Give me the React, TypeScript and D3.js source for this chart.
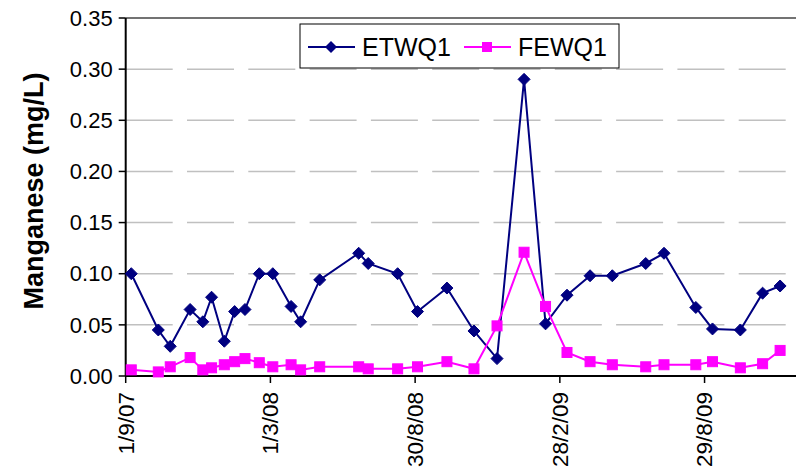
import React from "react";
import * as d3 from "d3";

const dates = [
  "2007-09-08", "2007-10-12", "2007-10-27", "2007-11-21", "2007-12-07", "2007-12-18",
  "2008-01-03", "2008-01-16", "2008-01-29", "2008-02-16", "2008-03-04", "2008-03-27",
  "2008-04-08", "2008-05-02", "2008-06-20", "2008-07-02", "2008-08-08", "2008-09-02",
  "2008-10-09", "2008-11-12", "2008-12-11", "2009-01-14", "2009-02-10", "2009-03-09",
  "2009-04-07", "2009-05-05", "2009-06-16", "2009-07-09", "2009-08-18", "2009-09-08",
  "2009-10-13", "2009-11-10", "2009-12-02",
];
const etwq1 = [
  0.100, 0.045, 0.029, 0.065, 0.053, 0.077, 0.034, 0.063, 0.065, 0.100, 0.100, 0.068,
  0.053, 0.094, 0.120, 0.110, 0.100, 0.063, 0.086, 0.044, 0.017, 0.290, 0.051, 0.079,
  0.098, 0.098, 0.110, 0.120, 0.067, 0.046, 0.045, 0.081, 0.088,
];
const fewq1 = [
  0.006, 0.004, 0.009, 0.018, 0.006, 0.008, 0.011, 0.014, 0.017, 0.013, 0.009, 0.011,
  0.006, 0.009, 0.009, 0.007, 0.007, 0.009, 0.014, 0.007, 0.049, 0.121, 0.068, 0.023,
  0.014, 0.011, 0.009, 0.011, 0.011, 0.014, 0.008, 0.012, 0.025,
];
const xTickDates = ["2007-09-01", "2008-03-01", "2008-08-30", "2009-02-28", "2009-08-29"];
const xTickLabels = ["1/9/07", "1/3/08", "30/8/08", "28/2/09", "29/8/09"];
const yTicks = [0, 0.05, 0.1, 0.15, 0.2, 0.25, 0.3, 0.35];
const seriesNames = ["ETWQ1", "FEWQ1"];

const W = 796;
const H = 475;
const parse = d3.utcParse("%Y-%m-%d");

export default function App() {
  const left = 125.7;
  const right = 796;
  const top = 18;
  const bottom = 376;
  const x = d3
    .scaleUtc()
    .domain([parse("2007-09-01")!, parse("2009-12-22")!])
    .range([left, right]);
  const y = d3.scaleLinear().domain([0, 0.35]).range([bottom, top]);
  const pts = dates.map((d) => parse(d)!);
  const line = d3
    .line<number>()
    .x((_, i) => x(pts[i]))
    .y((v) => y(v));
  const navy = "#000080";
  const mag = "#FF00FF";
  const diamond = (cx: number, cy: number, r: number) =>
    `M${cx},${cy - r}L${cx + r},${cy}L${cx},${cy + r}L${cx - r},${cy}Z`;
  const font = "Arial, 'Liberation Sans', sans-serif";

  return (
    <svg
      width={W}
      height={H}
      style={{ position: "absolute", left: 0, top: 0, background: "#fff" }}
    >
      {/* gridlines */}
      {yTicks
        .filter((t) => t > 0 && t < 0.35)
        .map((t) => (
          <line
            key={"g" + t}
            x1={left}
            x2={right}
            y1={y(t)}
            y2={y(t)}
            stroke="#c0c0c0"
            strokeWidth={1.5}
            strokeDasharray="47,14.3"
          />
        ))}
      <line x1={left} x2={right} y1={y(0.35)} y2={y(0.35)} stroke="#444" strokeWidth={1.5} />
      {/* axes */}
      <line x1={left} x2={left} y1={top} y2={bottom} stroke="#000" strokeWidth={2} />
      <line x1={left} x2={right} y1={bottom} y2={bottom} stroke="#000" strokeWidth={2} />
      {yTicks.map((t) => (
        <g key={"y" + t}>
          <line x1={left - 7} x2={left} y1={y(t)} y2={y(t)} stroke="#000" strokeWidth={1.5} />
          <text
            x={left - 13}
            y={y(t)}
            dy="0.35em"
            textAnchor="end"
            fontFamily={font}
            fontSize={22}
            fill="#000"
          >
            {t.toFixed(2)}
          </text>
        </g>
      ))}
      {xTickDates.map((d, i) => {
        const tx = x(parse(d)!);
        return (
          <g key={"x" + d}>
            <line x1={tx} x2={tx} y1={bottom} y2={bottom + 7} stroke="#000" strokeWidth={1.5} />
            <text
              transform={`translate(${tx},${bottom + 16}) rotate(-90)`}
              dy="0.35em"
              textAnchor="end"
              fontFamily={font}
              fontSize={22.5}
              fill="#000"
            >
              {xTickLabels[i]}
            </text>
          </g>
        );
      })}
      <text
        transform={`translate(34,${(top + bottom) / 2 - 6}) rotate(-90)`}
        textAnchor="middle"
        dy="0.35em"
        fontFamily={font}
        fontSize={27}
        fontWeight="bold"
        fill="#000"
      >
        Manganese (mg/L)
      </text>
      {/* series */}
      <path d={line(etwq1) || ""} fill="none" stroke={navy} strokeWidth={2} />
      <path d={line(fewq1) || ""} fill="none" stroke={mag} strokeWidth={2} />
      {etwq1.map((v, i) => (
        <path key={"e" + i} d={diamond(x(pts[i]), y(v), 6)} fill={navy} stroke={navy} strokeWidth={1} />
      ))}
      {fewq1.map((v, i) => (
        <rect
          key={"f" + i}
          x={x(pts[i]) - 5}
          y={y(v) - 5}
          width={10}
          height={10}
          fill={mag}
          stroke={mag}
          strokeWidth={1}
        />
      ))}
      {/* legend */}
      <rect x={300} y={24} width={319} height={44} fill="#fff" stroke="#000" strokeWidth={1} />
      <line x1={308} x2={355} y1={47} y2={47} stroke={navy} strokeWidth={2} />
      <path d={diamond(331, 47, 6)} fill={navy} />
      <text x={362} y={47} dy="0.35em" fontFamily={font} fontSize={25} fill="#000">
        {seriesNames[0]}
      </text>
      <line x1={464} x2={511} y1={47} y2={47} stroke={mag} strokeWidth={2} />
      <rect x={482} y={42} width={10} height={10} fill={mag} />
      <text x={518} y={47} dy="0.35em" fontFamily={font} fontSize={25} fill="#000">
        {seriesNames[1]}
      </text>
    </svg>
  );
}
